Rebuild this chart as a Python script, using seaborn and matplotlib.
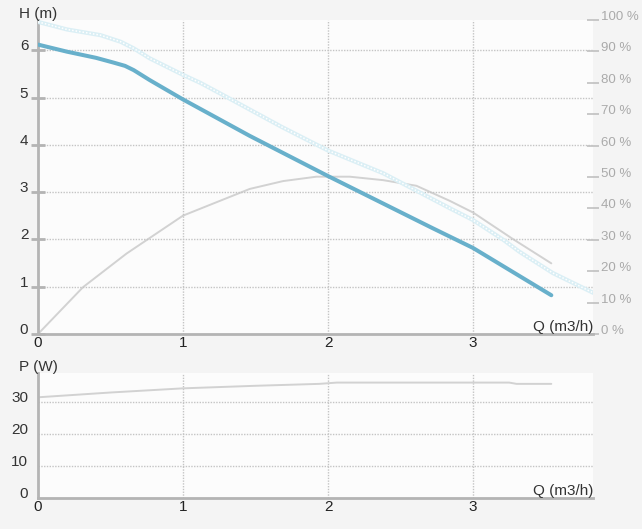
import matplotlib
matplotlib.use("Agg")
import matplotlib.pyplot as plt
import seaborn as sns

# pump curve
h_q = [0, 0.2, 0.4, 0.52, 0.6, 0.66, 0.77, 1.0, 1.46, 2.0, 2.72, 3.0, 3.54]
h_m = [6.12, 5.97, 5.84, 5.74, 5.67, 5.58, 5.37, 4.96, 4.19, 3.34, 2.24, 1.82, 0.82]

# light dotted curve (max head)
hmax_q = [0, 0.2, 0.43, 0.57, 0.66, 0.77, 1.0, 1.12, 1.26, 1.68, 2.0, 2.38, 2.84, 3.0, 3.21, 3.32, 3.55, 3.83]
hmax_m = [6.60, 6.44, 6.32, 6.18, 6.04, 5.83, 5.48, 5.31, 5.08, 4.38, 3.88, 3.40, 2.66, 2.41, 1.99, 1.74, 1.29, 0.87]

# efficiency (%)
eff_q = [0, 0.31, 0.61, 1.0, 1.46, 1.69, 1.92, 2.15, 2.38, 2.61, 2.84, 3.0, 3.27, 3.54]
eff_pct = [0, 14.9, 25.6, 37.7, 46.2, 48.7, 50.1, 50.1, 49.0, 47.2, 42.4, 38.7, 30.4, 22.5]

# power (W)
p_q = [0, 0.5, 1.0, 1.5, 1.94, 2.06, 3.25, 3.3, 3.54]
p_w = [31.4, 32.9, 34.2, 35.0, 35.6, 36.0, 36.0, 35.6, 35.6]

x_ticks = [0, 1, 2, 3]
h_ticks = [0, 1, 2, 3, 4, 5, 6]
pct_ticks = [0, 10, 20, 30, 40, 50, 60, 70, 80, 90, 100]
p_ticks = [0, 10, 20, 30]

BG = "#f4f4f4"
PLOT_BG = "#fcfcfc"
SPINE = "#b4b4b4"
GRID = "#c4c4c4"
BLUE = "#68b0cb"
LIGHT = "#dbeff5"
GRAY = "#d2d2d2"
FS = 11

sns.set_theme(style="white")
plt.rcParams["font.family"] = ["Liberation Sans", "DejaVu Sans"]
plt.rcParams["font.size"] = FS

fig = plt.figure(figsize=(6.42, 5.29), dpi=100, facecolor=BG)
ax = fig.add_axes([0.0592, 0.3686, 0.8645, 0.5936])
axp = fig.add_axes([0.0592, 0.0592, 0.8645, 0.2357])


def style_axis(a, ymax, yticks):
    a.set_facecolor(PLOT_BG)
    a.set_xlim(0, (593 - 38) / 145)
    a.set_ylim(0, ymax)
    for s in ["top", "right"]:
        a.spines[s].set_visible(False)
    for s in ["left", "bottom"]:
        a.spines[s].set_color(SPINE)
        a.spines[s].set_linewidth(2)
    a.set_xticks(x_ticks)
    a.set_yticks(yticks)
    a.tick_params(axis="y", direction="inout", length=10, width=2, color=SPINE,
                  labelcolor="#333333", pad=2, labelsize=FS)
    a.tick_params(axis="x", direction="inout", length=6, width=1.2, color="#222222",
                  labelcolor="#222222", pad=-1.5, labelsize=FS)
    for lbl in a.get_yticklabels():
        lbl.set_va("baseline")
    for x in x_ticks[1:]:
        a.axvline(x, color=GRID, lw=1, ls=(0, (1, 1)), zorder=0)
    for y in yticks[1:]:
        a.axhline(y, color=GRID, lw=1, ls=(0, (1, 1)), zorder=0)
    a.set_xlabel("")
    a.set_ylabel("")
    a.text(1.0, 0.0, "Q (m3/h)", transform=a.transAxes, ha="right", va="bottom",
           fontsize=FS, color="#333333")


style_axis(ax, 6.64, h_ticks)

# efficiency on a right-hand % axis
ax2 = ax.twinx()
ax2.set_ylim(0, 99.4)
for s in ax2.spines.values():
    s.set_visible(False)
ax2.set_yticks(pct_ticks)
ax2.set_yticklabels([f"{t} %" for t in pct_ticks])
ax2.tick_params(axis="y", direction="inout", length=9, width=1.2, color="#c0c0c0",
                labelcolor="#aaaaaa", pad=1, labelsize=9.5)
for lbl in ax2.get_yticklabels():
    lbl.set_va("baseline")
sns.lineplot(x=eff_q, y=eff_pct, ax=ax2, color=GRAY, lw=1.4, sort=False, estimator=None)
ax2.set_ylabel("")

# light chain-like curve
sns.lineplot(x=hmax_q, y=hmax_m, ax=ax, color=LIGHT, lw=3, sort=False, estimator=None, zorder=3)
sns.lineplot(x=hmax_q, y=hmax_m, ax=ax, color="#ffffff", lw=1.1, sort=False, estimator=None,
             zorder=3.1, linestyle=(0, (1, 1.3)))
sns.lineplot(x=h_q, y=h_m, ax=ax, color=BLUE, lw=2.9, sort=False, estimator=None, zorder=4)
ax.set_zorder(ax2.get_zorder() + 1)
ax.patch.set_visible(False)
ax2.set_facecolor(PLOT_BG)
ax2.patch.set_visible(True)
ax.set_xlabel("")
ax.set_ylabel("")

style_axis(axp, 39, p_ticks)
sns.lineplot(x=p_q, y=p_w, ax=axp, color=GRAY, lw=1.4, sort=False, estimator=None)
axp.set_xlabel("")
axp.set_ylabel("")

fig.text(19 / 642, 1 - 18 / 529, "H (m)", ha="left", va="baseline", fontsize=FS, color="#333333")
fig.text(19 / 642, 1 - 371 / 529, "P (W)", ha="left", va="baseline", fontsize=FS, color="#333333")

fig.savefig("out.png", dpi=100, facecolor=BG)
